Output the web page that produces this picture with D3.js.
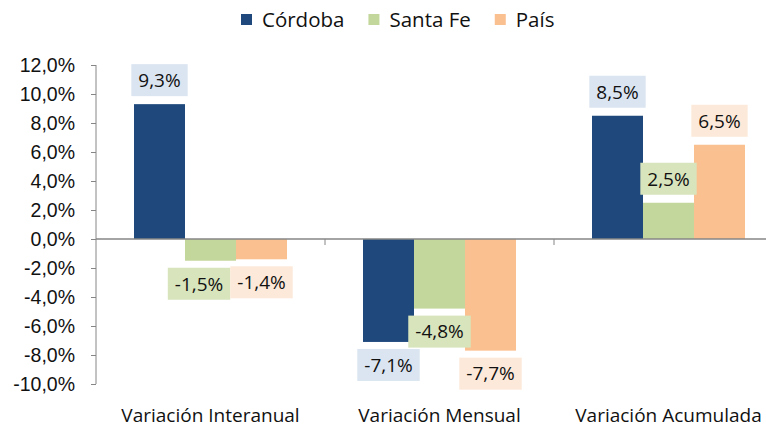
<!DOCTYPE html>
<html>
<head>
<meta charset="utf-8">
<script src="https://cdn.jsdelivr.net/npm/d3@7"></script>
<style>
  body { margin: 0; background: #fff; }
  svg { display: block; font-family: "Open Sans", "Noto Sans", sans-serif; }
</style>
</head>
<body>
<div id="chart"></div>
<script>
// ---------------- data ----------------
const categories = ["Variación Interanual", "Variación Mensual", "Variación Acumulada"];
const seriesNames = ["Córdoba", "Santa Fe", "País"];
const cordoba = [9.3, -7.1, 8.5];
const santaFe = [-1.5, -4.8, 2.5];
const pais = [-1.4, -7.7, 6.5];
const yTicks = [-10, -8, -6, -4, -2, 0, 2, 4, 6, 8, 10, 12];

const barColors = ["#1f497d", "#c3d69b", "#fac090"];
const boxColors = ["#dbe5f1", "#d8e4bc", "#fde9d9"];

const W = 766, H = 427;
const svg = d3.select("#chart").append("svg")
    .attr("width", W).attr("height", H);

const locale = d3.formatLocale({ decimal: ",", thousands: ".", grouping: [3], currency: ["", ""], minus: "-" });
const fmt = locale.format(".1f");
const pct = v => fmt(v) + "%";

// ---------------- scales ----------------
const y = d3.scaleLinear().domain([-10, 12]).range([384, 65]);
const x0 = d3.scaleBand().domain(categories).range([96, 783]).padding(0);
const x1 = d3.scaleBand().domain(seriesNames).range([38, 191]).padding(0);

const values = [cordoba, santaFe, pais];
const rows = [];
categories.forEach((c, i) => {
    seriesNames.forEach((s, j) => {
        rows.push({ cat: c, ser: s, si: j, v: values[j][i] });
    });
});

// ---------------- axes ----------------
const yAxis = d3.axisLeft(y).tickValues(yTicks).tickSize(5).tickPadding(16)
    .tickFormat(pct);
const gy = svg.append("g").attr("transform", "translate(96,0)").call(yAxis);
gy.select(".domain").attr("stroke", "#868686").attr("d", "M0,65V384");
gy.selectAll(".tick line").attr("stroke", "#868686");
gy.selectAll(".tick text").attr("fill", "#111").style("font-size", "19.5px")
    .attr("dy", "0.34em");

// bars
svg.append("g").selectAll("rect").data(rows).join("rect")
    .attr("x", d => x0(d.cat) + x1(d.ser))
    .attr("width", x1.bandwidth())
    .attr("y", d => Math.min(y(d.v), y(0)))
    .attr("height", d => Math.abs(y(d.v) - y(0)))
    .attr("fill", d => barColors[d.si]);

// x axis line at zero + category separators
const gx = svg.append("g");
gx.append("line").attr("x1", 96).attr("x2", 766).attr("y1", y(0)).attr("y2", y(0))
    .attr("stroke", "#868686").attr("stroke-width", 1.3);
gx.selectAll(".sep").data(categories.slice(1)).join("line")
    .attr("x1", d => x0(d)).attr("x2", d => x0(d))
    .attr("y1", y(0)).attr("y2", y(0) + 6)
    .attr("stroke", "#868686");

gx.selectAll("text.cat").data(categories).join("text")
    .attr("class", "cat")
    .attr("x", d => x0(d) + x0.bandwidth() / 2)
    .attr("y", 422)
    .attr("text-anchor", "middle")
    .attr("fill", "#111")
    .style("font-size", "19px")
    .text(d => d);

// ---------------- data labels ----------------
const lab = svg.append("g");
const boxH = 32;
rows.forEach(d => {
    const t = lab.append("text").style("font-size", "19px").text(pct(d.v));
    d.tw = t.node().getComputedTextLength();
    t.remove();
    d.bw = d.tw + 14;
    d.bx = x0(d.cat) + x1(d.ser) + x1.bandwidth() / 2 - d.bw / 2;
    d.by = d.v >= 0 ? y(d.v) - 8 - boxH : y(d.v) + 7;
});
// simple overlap avoidance within each category: push earlier box left
categories.forEach(c => {
    const r = rows.filter(d => d.cat === c);
    for (let k = r.length - 1; k > 0; k--) {
        const a = r[k - 1], b = r[k];
        const vOverlap = a.by < b.by + boxH && b.by < a.by + boxH;
        if (vOverlap && a.bx + a.bw > b.bx) a.bx = b.bx - a.bw;
    }
});
const lg = lab.selectAll("g").data(rows).join("g");
lg.append("rect")
    .attr("x", d => d.bx).attr("y", d => d.by)
    .attr("width", d => d.bw).attr("height", boxH)
    .attr("fill", d => boxColors[d.si]);
lg.append("text")
    .attr("x", d => d.bx + d.bw / 2)
    .attr("y", d => d.by + boxH / 2)
    .attr("dy", "0.36em")
    .attr("text-anchor", "middle")
    .attr("fill", "#111")
    .style("font-size", "19px")
    .text(d => pct(d.v));

// ---------------- legend ----------------
const leg = svg.append("g");
let lx = 241;
seriesNames.forEach((s, i) => {
    leg.append("rect").attr("x", lx).attr("y", 14).attr("width", 11).attr("height", 11)
        .attr("fill", barColors[i]);
    const t = leg.append("text").attr("x", lx + 21).attr("y", 20).attr("dy", "0.36em")
        .attr("fill", "#111").style("font-size", "20.5px").text(s);
    lx += 21 + t.node().getComputedTextLength() + 24;
});
</script>
</body>
</html>
